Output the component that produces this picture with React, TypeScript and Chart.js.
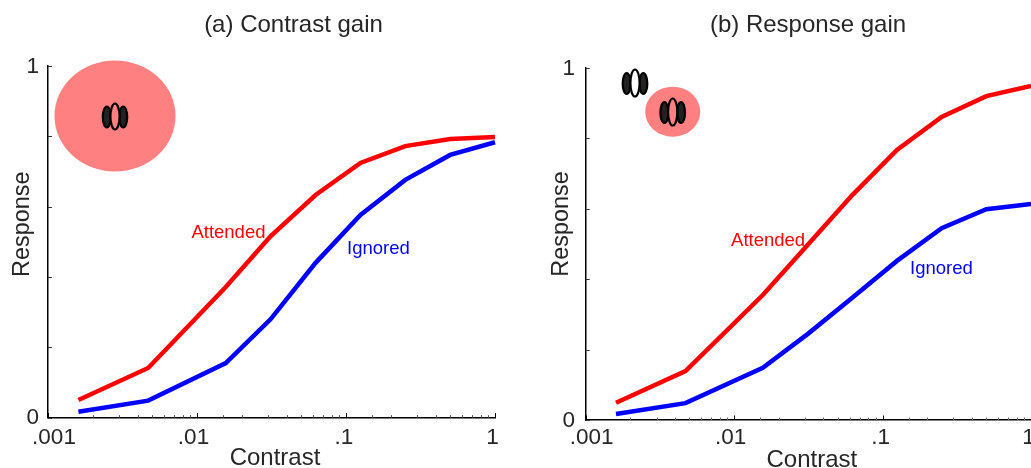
import React, { useEffect, useRef } from "react";
import { Chart, registerables } from "chart.js";

Chart.register(...registerables);

const contrasts = [0.0016, 0.0047, 0.0156, 0.03125, 0.0625, 0.125, 0.25, 0.5, 1];
const contrastGainAttended = [0.05, 0.141, 0.371, 0.516, 0.633, 0.724, 0.772, 0.792, 0.798];
const contrastGainIgnored = [0.0165, 0.048, 0.155, 0.28, 0.44, 0.576, 0.676, 0.747, 0.783];
const responseGainAttended = [0.049, 0.139, 0.355, 0.497, 0.639, 0.767, 0.861, 0.92, 0.949];
const responseGainIgnored = [0.017, 0.048, 0.148, 0.244, 0.347, 0.452, 0.545, 0.599, 0.614];
const xTickValues = [0.001, 0.01, 0.1, 1];
const xTickLabels = [".001", ".01", ".1", "1"];
const yTickValues = [0, 1];
const yTickLabels = ["0", "1"];

const FONT = '"Liberation Sans", Arial, sans-serif';
const INK = "#262626";
const PINK = "#ff8080";

type Glyph = { cx: number; cy: number; fill: string; ry: number; side: number; sideRy: number };

type PanelCfg = {
  title: string;
  attended: number[];
  ignored: number[];
  canvasLeft: number;
  canvasWidth: number;
  areaLeft: number;
  areaRight: number;
  areaTop: number;
  areaBottom: number;
  titleCenter: number;
  titleDy: number;
  xTitleShift: [number, number];
  yTitleShift: [number, number];
  yLabelGap: number;
  xLabelBaseline: number;
  attendedLabel: [number, number];
  ignoredLabel: [number, number];
  discs: { cx: number; cy: number; rx: number; ry: number }[];
  glyphs: Glyph[];
};

const panels: PanelCfg[] = [
  {
    title: "(a) Contrast gain",
    attended: contrastGainAttended,
    ignored: contrastGainIgnored,
    canvasLeft: 0,
    canvasWidth: 520,
    areaLeft: 48,
    areaRight: 495,
    areaTop: 66,
    areaBottom: 417.5,
    titleCenter: 293.5,
    titleDy: 1,
    xTitleShift: [3.5, 5],
    yTitleShift: [9, -17.5],
    yLabelGap: 9,
    xLabelBaseline: 26,
    attendedLabel: [0.01626, 0.525],
    ignoredLabel: [0.165, 0.48],
    discs: [{ cx: 115, cy: 116, rx: 60.5, ry: 55.5 }],
    glyphs: [{ cx: 115, cy: 116.5, fill: PINK, ry: 13, side: 8.2, sideRy: 10.5 }],
  },
  {
    title: "(b) Response gain",
    attended: responseGainAttended,
    ignored: responseGainIgnored,
    canvasLeft: 525,
    canvasWidth: 506,
    areaLeft: 60.7,
    areaRight: 506,
    areaTop: 68,
    areaBottom: 420,
    titleCenter: 283,
    titleDy: 1,
    xTitleShift: [3.5, 7],
    yTitleShift: [23, -20],
    yLabelGap: 10.7,
    xLabelBaseline: 23.5,
    attendedLabel: [0.01694, 0.509],
    ignoredLabel: [0.2494, 0.428],
    discs: [{ cx: 147.7, cy: 111.7, rx: 27.5, ry: 25 }],
    glyphs: [
      { cx: 110, cy: 83, fill: "#ffffff", ry: 13.5, side: 8.3, sideRy: 10.5 },
      { cx: 147.7, cy: 112, fill: PINK, ry: 13.5, side: 8.3, sideRy: 10.5 },
    ],
  },
];

function ellipse(ctx: CanvasRenderingContext2D, x: number, y: number, rx: number, ry: number, fill: string) {
  ctx.beginPath();
  ctx.ellipse(x, y, rx, ry, 0, 0, Math.PI * 2);
  ctx.fillStyle = fill;
  ctx.fill();
  ctx.lineWidth = 2.2;
  ctx.strokeStyle = "#000";
  ctx.stroke();
}

function panelPlugin(cfg: PanelCfg) {
  return {
    id: "panelDecor",
    afterLayout(chart: any) {
      const half = 200;
      chart.titleBlock.left = cfg.titleCenter - half;
      chart.titleBlock.right = cfg.titleCenter + half;
      const wrap = (scale: any, shift: [number, number]) => {
        const orig = scale.drawTitle;
        if (scale.__wrapped) return;
        scale.__wrapped = true;
        scale.drawTitle = function () {
          const ctx = chart.ctx;
          ctx.save();
          ctx.translate(shift[0], shift[1]);
          orig.call(scale);
          ctx.restore();
        };
      };
      wrap(chart.scales.x, cfg.xTitleShift);
      wrap(chart.scales.y, cfg.yTitleShift);
    },
    afterDraw(chart: any) {
      const { ctx, scales } = chart;
      const { x, y } = scales;
      ctx.save();

      // inward tick marks
      ctx.lineWidth = 1;
      x.ticks.forEach((t: any) => {
        const lg = Math.log10(t.value);
        const major = Math.abs(lg - Math.round(lg)) < 1e-6;
        const px = Math.round(x.getPixelForValue(t.value)) + 0.5;
        ctx.strokeStyle = major ? "#000" : "#666";
        ctx.beginPath();
        ctx.moveTo(px, cfg.areaBottom);
        ctx.lineTo(px, cfg.areaBottom - (major ? 4.5 : 2.5));
        ctx.stroke();
      });
      ctx.strokeStyle = "#333";
      y.ticks.forEach((t: any) => {
        const py = Math.round(y.getPixelForValue(t.value)) + 0.5;
        ctx.beginPath();
        ctx.moveTo(cfg.areaLeft, py);
        ctx.lineTo(cfg.areaLeft + 4, py);
        ctx.stroke();
      });

      // tick labels
      ctx.font = `22.5px ${FONT}`;
      ctx.fillStyle = INK;
      ctx.textBaseline = "alphabetic";
      const nudges = [6, -3.5, -2, -2.5];
      ctx.textAlign = "center";
      xTickValues.forEach((v, i) => {
        ctx.fillText(xTickLabels[i], x.getPixelForValue(v) + nudges[i], cfg.areaBottom + cfg.xLabelBaseline);
      });
      ctx.textAlign = "right";
      yTickValues.forEach((v, i) => {
        ctx.fillText(yTickLabels[i], cfg.areaLeft - cfg.yLabelGap, y.getPixelForValue(v) + 6.5);
      });

      // curve labels
      ctx.font = `18.5px ${FONT}`;
      ctx.textAlign = "center";
      ctx.textBaseline = "middle";
      ctx.fillStyle = "#ff0000";
      ctx.fillText("Attended", x.getPixelForValue(cfg.attendedLabel[0]), y.getPixelForValue(cfg.attendedLabel[1]));
      ctx.fillStyle = "#0000ff";
      ctx.fillText("Ignored", x.getPixelForValue(cfg.ignoredLabel[0]), y.getPixelForValue(cfg.ignoredLabel[1]));

      // attention-field icons
      cfg.discs.forEach((d) => {
        ctx.beginPath();
        ctx.ellipse(d.cx, d.cy, d.rx, d.ry, 0, 0, Math.PI * 2);
        ctx.fillStyle = PINK;
        ctx.fill();
      });
      cfg.glyphs.forEach((g) => {
        ellipse(ctx, g.cx - g.side, g.cy + 0.5, 4, g.sideRy, "#222222");
        ellipse(ctx, g.cx + g.side, g.cy + 0.5, 4, g.sideRy, "#222222");
        ellipse(ctx, g.cx, g.cy, 4.6, g.ry, g.fill);
      });
      ctx.restore();
    },
  };
}

function Panel({ cfg }: { cfg: PanelCfg }) {
  const ref = useRef<HTMLCanvasElement | null>(null);
  useEffect(() => {
    if (!ref.current) return;
    const height = 468;
    const titleLine = 24 * 1.2;
    const chart = new Chart(ref.current, {
      type: "line",
      data: {
        labels: contrasts,
        datasets: [
          {
            label: "Attended",
            data: cfg.attended.map((v, i) => ({ x: contrasts[i], y: v })),
            borderColor: "#ff0000",
            borderWidth: 4.5,
            pointRadius: 0,
            tension: 0,
            clip: false,
          },
          {
            label: "Ignored",
            data: cfg.ignored.map((v, i) => ({ x: contrasts[i], y: v })),
            borderColor: "#0000ff",
            borderWidth: 4.5,
            pointRadius: 0,
            tension: 0,
            clip: false,
          },
        ],
      },
      options: {
        responsive: false,
        animation: false,
        layout: { padding: { left: 0, top: 0, bottom: 0, right: cfg.canvasWidth - cfg.areaRight } },
        plugins: {
          legend: { display: false },
          tooltip: { enabled: false },
          title: {
            display: true,
            text: cfg.title,
            color: INK,
            font: { family: FONT, size: 24, weight: "normal", lineHeight: 1.2 },
            padding: { top: 9.6 + cfg.titleDy, bottom: cfg.areaTop - titleLine - 9.6 - cfg.titleDy },
          },
        },
        scales: {
          x: {
            type: "logarithmic",
            min: 0.001,
            max: 1,
            grid: { display: false },
            border: { color: "#000", width: 1.5 },
            ticks: { display: false },
            title: {
              display: true,
              text: "Contrast",
              color: INK,
              font: { family: FONT, size: 24, weight: "normal", lineHeight: 1.2 },
              padding: { top: 0, bottom: 0 },
            },
            afterFit(scale: any) {
              scale.height = height - cfg.areaBottom;
            },
          },
          y: {
            type: "linear",
            min: 0,
            max: 1,
            grid: { display: false },
            border: { color: "#000", width: 1.5 },
            ticks: { display: false, stepSize: 0.2 },
            title: {
              display: true,
              text: "Response",
              color: INK,
              font: { family: FONT, size: 23.4, weight: "normal", lineHeight: 1.2 },
              padding: { top: 0, bottom: 0 },
            },
            afterFit(scale: any) {
              scale.width = cfg.areaLeft;
            },
          },
        },
      },
      plugins: [panelPlugin(cfg)],
    } as any);
    return () => chart.destroy();
  }, [cfg]);
  return (
    <canvas
      ref={ref}
      width={cfg.canvasWidth}
      height={468}
      style={{ position: "absolute", left: cfg.canvasLeft, top: 0, width: cfg.canvasWidth, height: 468 }}
    />
  );
}

export default function App() {
  return (
    <div style={{ position: "absolute", left: 0, top: 0, width: 1031, height: 468, background: "#fff", overflow: "hidden" }}>
      {panels.map((p) => (
        <Panel key={p.title} cfg={p} />
      ))}
    </div>
  );
}
